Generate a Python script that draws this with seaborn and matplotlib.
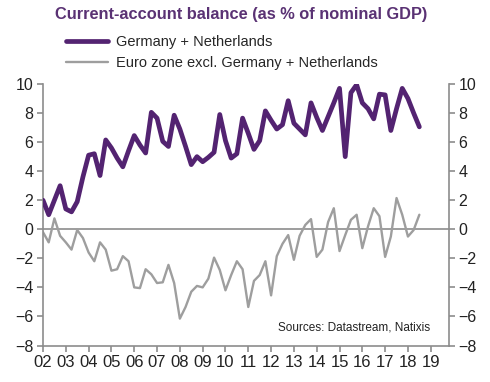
import numpy as np
import pandas as pd
import matplotlib
matplotlib.use("Agg")
import matplotlib.pyplot as plt
import seaborn as sns

# quarterly data, 2002Q1 .. 2018Q3
germany_nl = [2.0, 1.0, 2.0, 3.0, 1.4, 1.2, 1.9, 3.6, 5.1, 5.2, 3.7, 6.15,
              5.6, 4.9, 4.3, 5.4, 6.45, 5.8, 5.25, 8.05, 7.65, 6.05, 5.7, 7.85,
              6.9, 5.7, 4.45, 5.0, 4.65, 4.95, 5.3, 7.9, 6.1, 4.9, 5.2, 7.65,
              6.6, 5.5, 6.1, 8.15, 7.5, 6.9, 7.2, 8.85, 7.3, 6.9, 6.5, 8.7,
              7.7, 6.8, 7.75, 8.7, 9.7, 5.0, 9.4, 9.95, 8.7, 8.3, 7.6, 9.3,
              9.25, 6.8, 8.3, 9.7, 9.0, 8.0, 7.05]
eurozone_ex = [-0.2, -0.9, 0.75, -0.45, -0.9, -1.4, -0.05, -0.6, -1.6, -2.2, -0.9, -1.4,
               -2.85, -2.75, -1.85, -2.2, -4.0, -4.05, -2.75, -3.1, -3.7, -3.65, -2.45, -3.7,
               -6.15, -5.35, -4.3, -3.9, -4.0, -3.4, -1.95, -2.8, -4.2, -3.15, -2.2, -2.75,
               -5.35, -3.55, -3.15, -2.2, -4.55, -1.85, -1.0, -0.4, -2.1, -0.45, 0.3, 0.7,
               -1.9, -1.4, 0.5, 1.45, -1.5, -0.4, 0.65, 1.0, -1.3, 0.2, 1.45, 0.9,
               -1.9, -0.5, 2.15, 1.0, -0.5, -0.05, 1.0]
years = list(range(2002, 2020))
year_labels = [str(y)[2:] for y in years]
yticks = [-8, -6, -4, -2, 0, 2, 4, 6, 8, 10]

t = 2002 + np.arange(len(germany_nl)) / 4
df = pd.DataFrame({"t": t, "gn": germany_nl, "ez": eurozone_ex})

sns.set_style("white")
plt.rcParams["font.family"] = ["Liberation Sans", "DejaVu Sans"]

purple = "#532371"
grey = "#9e9e9e"
axis_grey = "#8c8c8c"

fig = plt.figure(figsize=(4.9, 3.82), dpi=100)
ax = fig.add_axes([43 / 490, 1 - 345.5 / 382, 406 / 490, 261.5 / 382])

ax.axhline(0, color=axis_grey, lw=1.2, zorder=1)
sns.lineplot(data=df, x="t", y="gn", ax=ax, color=purple, lw=3.4,
             label="Germany + Netherlands", zorder=3)
sns.lineplot(data=df, x="t", y="ez", ax=ax, color=grey, lw=1.7,
             label="Euro zone excl. Germany + Netherlands", zorder=2)

ax.set_xlim(2002, 2019.8)
ax.set_ylim(-8, 10)
ax.set_xticks(years)
ax.set_xticklabels(year_labels)
ax.set_yticks(yticks)
ax.set_xlabel("")
ax.set_ylabel("")

for side in ["left", "right", "bottom"]:
    ax.spines[side].set_visible(True)
    ax.spines[side].set_color(axis_grey)
    ax.spines[side].set_linewidth(1.2)
ax.spines["top"].set_visible(False)

ax.tick_params(axis="y", left=True, right=True, labelleft=True, labelright=True,
               length=4, width=1.2, color=axis_grey, labelsize=11.5,
               labelcolor="#222222", pad=3)
ax.tick_params(axis="x", bottom=True, length=4, width=1.2, color=axis_grey,
               labelsize=12, labelcolor="#222222", pad=3)

ax.legend(loc="upper left", bbox_to_anchor=(66 / 490, 1 - 35 / 382),
          bbox_transform=fig.transFigure, frameon=False, fontsize=10.5,
          handlelength=2.9, handletextpad=0.5, labelspacing=0.5,
          borderpad=0, borderaxespad=0)

fig.text(241 / 490, 1 - 14 / 382, "Current-account balance (as % of nominal GDP)",
         ha="center", va="center", fontsize=11.8, fontweight="bold", color="#5a3274")

ax.text(0.953, 0.067, "Sources: Datastream, Natixis", transform=ax.transAxes,
        ha="right", va="center", fontsize=8.5, color="#222222")

fig.savefig("out.png", dpi=100)
